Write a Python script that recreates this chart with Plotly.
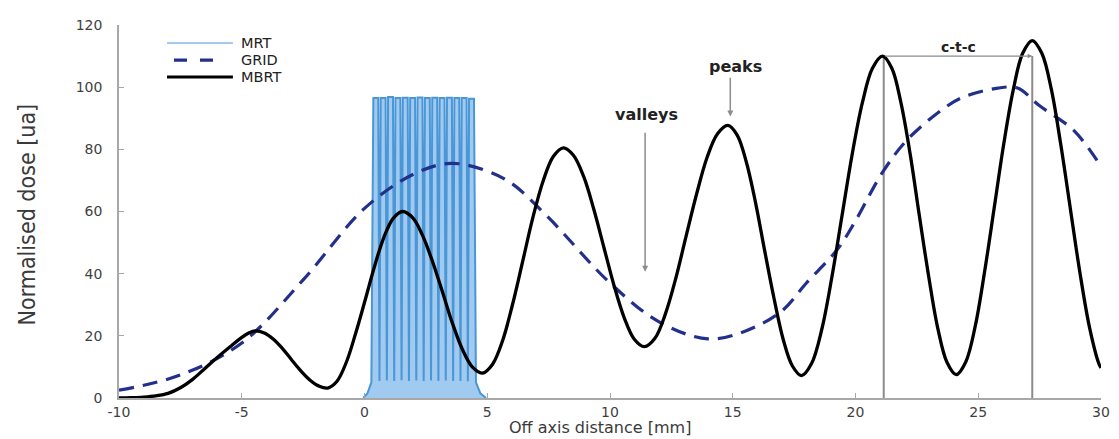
import plotly.graph_objects as go

# ---- MBRT profile (black): off-axis distance [mm] vs normalised dose ----
mbrt_x = [-10.0, -9.5, -9.0, -8.5, -8.0, -7.5, -7.0, -6.5, -6.0, -5.5, -5.0, -4.7, -4.45,
          -4.08, -3.71, -3.34, -2.98, -2.61, -2.24, -1.87, -1.5,
          -1.12, -0.74, -0.36, 0.03, 0.41, 0.79, 1.17, 1.55,
          1.96, 2.36, 2.77, 3.18, 3.58, 3.99, 4.39, 4.8,
          5.21, 5.63, 6.04, 6.45, 6.86, 7.28, 7.69, 8.1,
          8.51, 8.93, 9.34, 9.75, 10.16, 10.58, 10.99, 11.4,
          11.83, 12.25, 12.68, 13.1, 13.53, 13.95, 14.38, 14.8,
          15.18, 15.55, 15.93, 16.3, 16.68, 17.05, 17.43, 17.8,
          18.21, 18.63, 19.04, 19.45, 19.86, 20.28, 20.69, 21.1,
          21.48, 21.85, 22.23, 22.6, 22.98, 23.35, 23.73, 24.1,
          24.49, 24.88, 25.26, 25.65, 26.04, 26.43, 26.81, 27.2,
          27.59, 27.98, 28.36, 28.75, 29.14, 29.53, 29.91, 30.0]
mbrt_y = [0.0, 0.1, 0.3, 0.7, 1.5, 3.3, 6.0, 9.5, 13.0, 16.3, 19.5, 21.0, 21.6,
          20.9, 18.9, 15.9, 12.4, 8.9, 5.9, 3.9, 3.2,
          5.4, 11.5, 20.8, 31.6, 42.4, 51.7, 57.8, 60.0,
          58.0, 52.4, 43.9, 34.0, 24.1, 15.6, 10.0, 8.0,
          10.8, 18.6, 30.4, 44.2, 58.1, 69.9, 77.7, 80.5,
          78.1, 71.2, 60.7, 48.5, 36.3, 25.8, 18.9, 16.5,
          19.2, 26.9, 38.5, 52.1, 65.7, 77.3, 85.0, 87.7,
          84.6, 76.0, 62.8, 47.4, 32.1, 19.0, 10.3, 7.2,
          11.1, 22.2, 39.0, 58.6, 78.2, 95.0, 106.1, 110.0,
          106.1, 95.0, 78.3, 58.7, 39.2, 22.5, 11.4, 7.5,
          11.6, 23.2, 40.7, 61.2, 81.8, 99.3, 110.9, 115.0,
          110.9, 99.2, 81.6, 61.0, 40.4, 22.8, 11.1, 9.7]

# ---- GRID profile (dashed navy) ----
grid_x = [-10.0, -7.5, -5.0, -2.5, 0.0, 2.0, 3.5, 5.0, 6.0, 7.5, 10.0,
          12.0, 14.0, 15.5, 17.0, 18.0, 19.25, 20.0, 21.1, 22.1, 23.4,
          24.3, 25.8, 26.6, 27.5, 28.9, 30.0]
grid_y = [2.5, 7.4, 17.7, 38.0, 61.0, 72.0, 75.5, 73.0, 69.0, 58.0, 37.0,
          24.5, 19.0, 21.5, 28.0, 37.0, 47.7, 57.0, 72.6, 83.0, 92.0,
          96.5, 99.7, 99.7, 94.0, 86.0, 74.5]

# ---- MRT microbeams (light blue) ----
mrt_peak_x = [0.46, 0.76, 1.06, 1.36, 1.66, 1.96, 2.26, 2.56, 2.86, 3.16,
              3.46, 3.76, 4.06, 4.36]
mrt_peak_y = [96.5, 96.5, 96.8, 96.5, 96.6, 96.5, 96.7, 96.5, 96.6, 96.5,
              96.6, 96.5, 96.5, 96.3]
mrt_valley_y = [5.5, 5.6, 5.5, 5.7, 5.5, 5.6, 5.5, 5.6, 5.5, 5.6, 5.5, 5.5, 5.4]
mrt_left_x, mrt_left_y = [-0.05, 0.12, 0.28], [0.0, 1.5, 5.0]
mrt_right_x, mrt_right_y = [4.54, 4.72, 4.95], [5.0, 1.5, 0.0]

tick_x = [-10, -5, 0, 5, 10, 15, 20, 25, 30]
tick_x_text = ["-10", "-5", "0", "5", "10", "15", "20", "25", "30"]
tick_y = [0, 20, 40, 60, 80, 100, 120]

BEAM_HALF_TOP = 0.10   # half width of each microbeam plateau [mm]
BEAM_HALF_GAP = 0.15   # half centre-to-centre spacing [mm]


def microbeam_outline():
    xs, ys = list(mrt_left_x), list(mrt_left_y)
    for i, (c, top) in enumerate(zip(mrt_peak_x, mrt_peak_y)):
        xs += [c - BEAM_HALF_TOP, c + BEAM_HALF_TOP]
        ys += [top, top]
        if i < len(mrt_valley_y):
            xs.append(c + BEAM_HALF_GAP)
            ys.append(mrt_valley_y[i])
    xs += mrt_right_x
    ys += mrt_right_y
    return xs, ys


mrt_x, mrt_y = microbeam_outline()

NAVY = "#22308c"
MRT_BLUE = "#4a96d6"
MRT_PALE = "rgba(150,196,237,0.9)"
AXIS_GREY = "#a8a8a8"
NOTE_GREY = "#8c8c8c"
TICK_FONT = dict(family="DejaVu Sans, Arial, sans-serif", size=14, color="#3f3f3f")
NOTE_FONT = "DejaVu Sans, Arial, sans-serif"

fig = go.Figure()

fig.add_trace(go.Scatter(
    x=mrt_x, y=mrt_y, name="MRT", mode="lines",
    line=dict(color=MRT_BLUE, width=2.0),
    fill="tozeroy", fillcolor=MRT_PALE,
))
fig.add_trace(go.Scatter(
    x=grid_x, y=grid_y, name="GRID", mode="lines",
    line=dict(color=NAVY, width=3.2, dash="15px,9px", shape="spline", smoothing=1.0),
))
fig.add_trace(go.Scatter(
    x=mbrt_x, y=mbrt_y, name="MBRT", mode="lines",
    line=dict(color="black", width=3.3, shape="spline", smoothing=1.0),
))

# centre-to-centre markers between the two highest peaks
ctc_left, ctc_right, ctc_level = 21.15, 27.2, 110.0
for xv in (ctc_left, ctc_right):
    fig.add_shape(type="line", xref="x", yref="y", x0=xv, x1=xv, y0=0, y1=ctc_level,
                  line=dict(color=NOTE_GREY, width=2), layer="below")
fig.add_annotation(x=ctc_right, y=ctc_level, ax=ctc_left, ay=ctc_level,
                   xref="x", yref="y", axref="x", ayref="y", text="",
                   showarrow=True, arrowhead=2, arrowsize=0.7, arrowwidth=1.3,
                   arrowcolor=NOTE_GREY)
fig.add_annotation(x=24.2, y=112.8, xref="x", yref="y", text="<b>c-t-c</b>",
                   showarrow=False, font=dict(family=NOTE_FONT, size=14, color="#222"))

# valley / peak callouts
fig.add_annotation(x=11.43, y=40.6, ax=11.43, ay=85.8, xref="x", yref="y",
                   axref="x", ayref="y", text="", showarrow=True, arrowhead=2,
                   arrowsize=0.8, arrowwidth=1.5, arrowcolor=NOTE_GREY)
fig.add_annotation(x=11.5, y=91.3, xref="x", yref="y", text="<b>valleys</b>",
                   showarrow=False, font=dict(family=NOTE_FONT, size=16, color="#222"))
fig.add_annotation(x=14.9, y=90.6, ax=14.9, ay=103.5, xref="x", yref="y",
                   axref="x", ayref="y", text="", showarrow=True, arrowhead=2,
                   arrowsize=0.8, arrowwidth=1.5, arrowcolor=NOTE_GREY)
fig.add_annotation(x=15.1, y=106.5, xref="x", yref="y", text="<b>peaks</b>",
                   showarrow=False, font=dict(family=NOTE_FONT, size=16, color="#222"))

# legend drawn as key lines with labels in the upper-left corner
legend_rows = [
    ("MRT", 0.9517, dict(color="#a6cbea", width=2.2), 0.0489, 0.116),
    ("GRID", 0.906, dict(color=NAVY, width=3.2, dash="13px,13px"), 0.0560, 0.1010),
    ("MBRT", 0.8606, dict(color="black", width=3.2), 0.0489, 0.116),
]
for label, yy, style, x0, x1 in legend_rows:
    fig.add_shape(type="line", xref="paper", yref="paper", x0=x0, x1=x1, y0=yy, y1=yy,
                  line=style)
    fig.add_annotation(x=0.1222, y=yy, xref="paper", yref="paper", text=label,
                       xanchor="left", yanchor="middle", showarrow=False,
                       font=dict(family=NOTE_FONT, size=14.5, color="#222"))

# axis titles
fig.add_annotation(x=0.49, y=-0.1099, xref="paper", yref="paper",
                   text="Off axis distance [mm]", showarrow=False,
                   xanchor="center", yanchor="bottom",
                   font=dict(family=NOTE_FONT, size=16, color="#3a3a3a"))
fig.add_annotation(x=-0.0927, y=0.492, xref="paper", yref="paper",
                   text="Normalised dose [ua]", showarrow=False, textangle=-90,
                   xanchor="center", yanchor="middle",
                   font=dict(family="Liberation Sans Narrow, DejaVu Sans Condensed, Arial Narrow, sans-serif",
                             size=23, color="#3a3a3a"))

axis_common = dict(showgrid=False, zeroline=False, showline=True, linecolor=AXIS_GREY,
                   linewidth=1.5, ticks="inside", ticklen=5, tickwidth=1.3,
                   tickcolor=AXIS_GREY, tickfont=TICK_FONT, automargin=False)
fig.update_xaxes(range=[-10, 30], tickvals=tick_x, ticktext=tick_x_text,
                 ticklabelstandoff=0, **axis_common)
fig.update_yaxes(range=[0, 120], tickvals=tick_y, ticklabelstandoff=12, **axis_common)

fig.update_layout(width=1119, height=439, margin=dict(l=119, r=18, t=25, b=41),
                  plot_bgcolor="white", paper_bgcolor="white", showlegend=False)

fig.write_html("out.html")
